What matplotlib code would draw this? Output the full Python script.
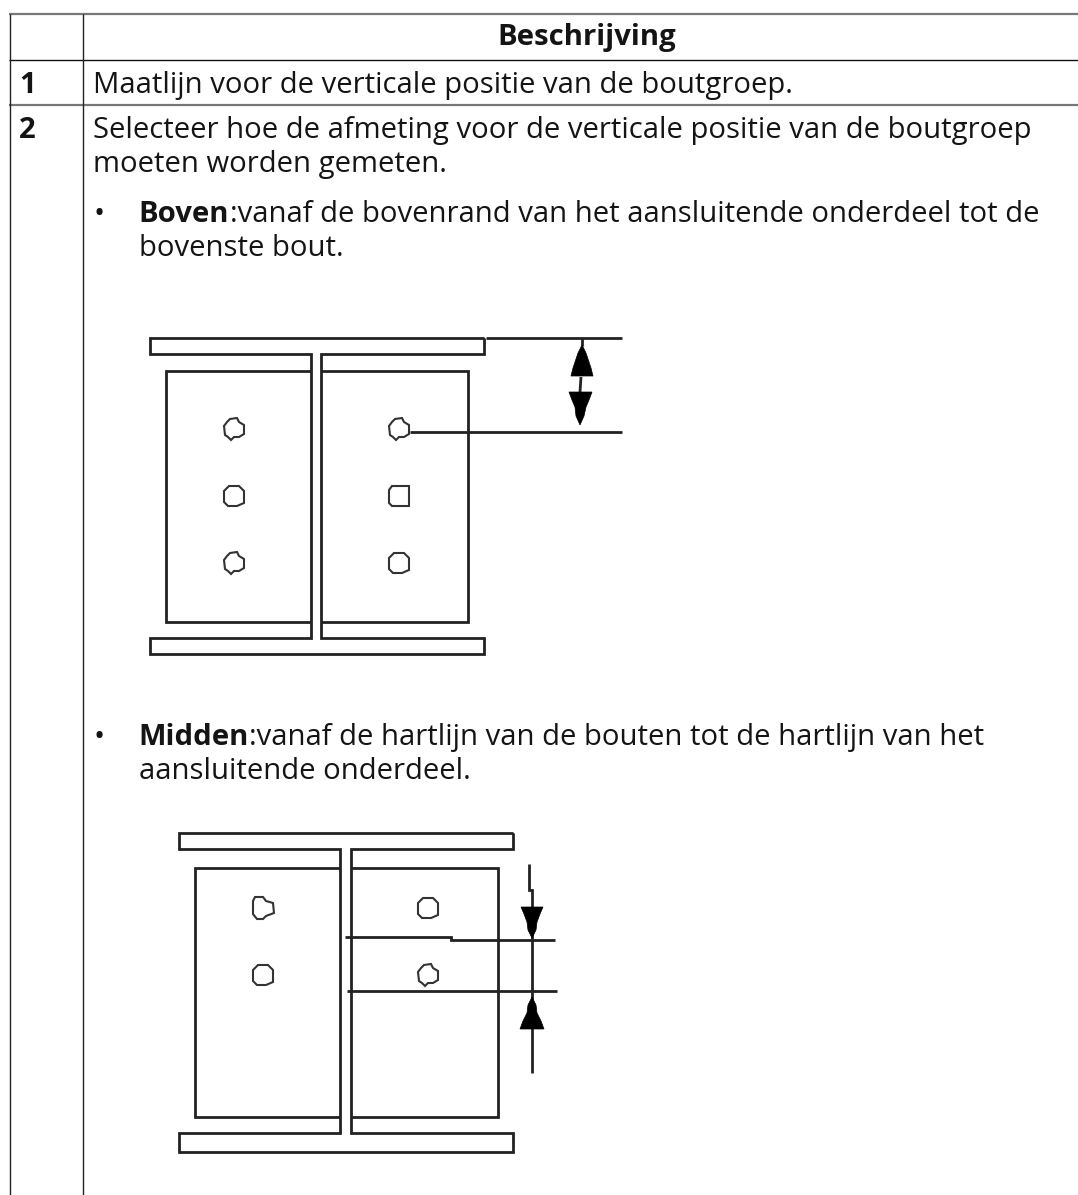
import matplotlib
matplotlib.use("Agg")
import matplotlib.pyplot as plt
from matplotlib.patches import Polygon

W, H = 1078, 1195
FONT = "Open Sans"
FS = 21.08
INK = "#141414"

# text: x, baseline y, string
plain_texts = [
    (93, 93, "Maatlijn voor de verticale positie van de boutgroep."),
    (93, 138, "Selecteer hoe de afmeting voor de verticale positie van de boutgroep"),
    (93, 172, "moeten worden gemeten."),
    (139, 256, "bovenste bout."),
    (139, 779, "aansluitende onderdeel."),
]
bold_texts = [(19, 93, "1"), (19, 138, "2")]
header = "Beschrijving"
bullet_rows = [
    (94, 138, 222, "Boven", ":vanaf de bovenrand van het aansluitende onderdeel tot de"),
    (94, 138, 745, "Midden", ":vanaf de hartlijn van de bouten tot de hartlijn van het"),
]

# table rules
rule_h = [(14, 9, 1078, "#777777", 1.6), (60, 9, 1078, "#111111", 1.0), (105, 9, 1078, "#777777", 1.6)]
rule_v = [(9.5, 14, 1195), (82.5, 14, 1195)]

# first drawing
d1_paths = [
    [(484, 338), (150, 338), (150, 354), (311, 354), (311, 638), (150, 638), (150, 654), (484, 654), (484, 638), (321, 638), (321, 354), (484, 354), (484, 338)],
    [(311, 371), (166, 371), (166, 622), (311, 622)],
    [(321, 371), (468, 371), (468, 622), (321, 622)],
    [(486, 338), (622, 338)],
    [(410, 432), (622, 432)],
    [(582, 338), (582, 346)],
    [(581, 377), (580, 392)],
]
d1_arrows = [
    [(582, 345), (578, 353), (575, 362), (573, 368), (571, 376), (593, 376), (591, 368), (589, 362), (586, 353)],
    [(580, 425), (576, 416), (575, 407), (572, 400), (569, 392), (592, 392), (589, 400), (586, 407), (584, 416)],
]
# x, y, outline index
d1_holes = [(234, 429, 0), (234, 496, 1), (234, 563, 0), (399, 429, 0), (399, 496, 2), (399, 563, 1)]

# second drawing
d2_paths = [
    [(513, 833), (179, 833), (179, 849), (340, 849), (340, 1133), (179, 1133), (179, 1152), (513, 1152), (513, 1133), (351, 1133), (351, 849), (513, 849), (513, 833)],
    [(340, 868), (195, 868), (195, 1117), (340, 1117)],
    [(351, 868), (498, 868), (498, 1117), (351, 1117)],
    [(345, 937), (451, 937), (451, 940), (555, 940)],
    [(347, 991), (557, 991)],
    [(529, 864), (529, 890), (532, 890), (532, 1073)],
]
d2_arrows = [
    [(532, 938), (528, 930), (527, 922), (524, 914), (521, 907), (543, 907), (540, 914), (537, 922), (536, 930)],
    [(532, 997), (528, 1005), (527, 1013), (523, 1021), (520, 1029), (544, 1029), (541, 1021), (537, 1013), (536, 1005)],
]
d2_holes = [(263, 908, 3), (263, 975, 1), (428, 908, 1), (428, 975, 0)]

# hole outlines, offsets from centre
hole_outlines = [
    [(-4, -10), (3, -11), (5, -7), (10, -4), (10, 5), (5, 8), (0, 8), (-3, 11), (-6, 8), (-9, 6), (-10, -3), (-7, -7)],
    [(-5, -10), (5, -10), (10, -5), (10, 7), (3, 10), (-6, 10), (-10, 6), (-10, -5)],
    [(-7, -10), (10, -10), (10, 10), (-7, 10), (-10, 7), (-10, -6)],
    [(-8, -11), (0, -11), (3, -7), (10, -5), (11, 5), (3, 8), (0, 11), (-6, 11), (-10, 6), (-10, -7)],
]

fig = plt.figure(figsize=(W / 100, H / 100), dpi=100, facecolor="white")
ax = fig.add_axes([0, 0, 1, 1])
ax.set_xlim(0, W)
ax.set_ylim(H, 0)
ax.axis("off")

for y, x0, x1, c, lw in rule_h:
    ax.plot([x0, x1], [y, y], color=c, lw=lw, solid_capstyle="butt")
for x, y0, y1 in rule_v:
    ax.plot([x, x], [y0, y1], color="#222222", lw=1.0, solid_capstyle="butt")


def put(x, y, s, weight="normal", **kw):
    return ax.text(x, y, s, fontfamily=FONT, fontsize=FS, fontweight=weight,
                   color=INK, va="baseline", **kw)


for x, y, s in plain_texts:
    put(x, y, s)
for x, y, s in bold_texts:
    put(x, y, s, "bold")
put(587, 45, header, "bold", ha="center")

fig.canvas.draw()
rend = fig.canvas.get_renderer()
for bx, tx, y, b, rest in bullet_rows:
    put(bx, y, "•")
    t = put(tx, y, b, "bold")
    end = t.get_window_extent(rend).x1
    put(end + 1, y, rest)

for paths, arrows, holes in [(d1_paths, d1_arrows, d1_holes), (d2_paths, d2_arrows, d2_holes)]:
    for p in paths:
        ax.plot([q[0] for q in p], [q[1] for q in p], color="#222222", lw=2.0,
                solid_joinstyle="miter", solid_capstyle="butt")
    for a in arrows:
        ax.add_patch(Polygon(a, closed=True, fc="black", ec="black", lw=0.5, zorder=3))
    for x, y, k in holes:
        pts = [(x + dx, y + dy) for dx, dy in hole_outlines[k]]
        ax.add_patch(Polygon(pts, closed=True, fc="white", ec="#333333", lw=1.5, zorder=3))

fig.savefig("out.png", dpi=100, facecolor="white")
